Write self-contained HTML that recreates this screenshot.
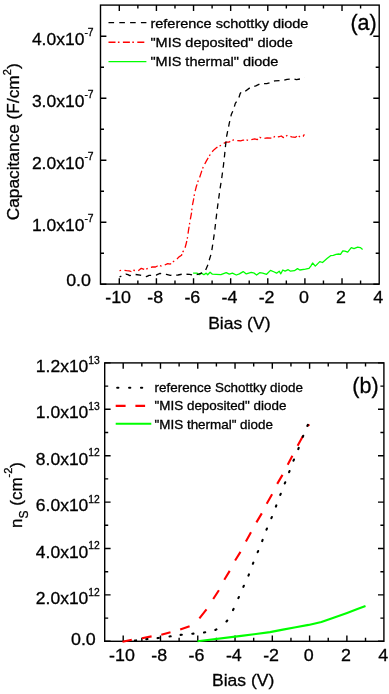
<!DOCTYPE html>
<html><head><meta charset="utf-8"><style>
html,body{margin:0;padding:0;background:#fff;}
svg{display:block;will-change:transform;}
</style></head><body>
<svg width="389" height="694" viewBox="0 0 389 694" font-family="'Liberation Sans', sans-serif" fill="#000" stroke-width="0.3">
<rect x="100.50" y="5.10" width="278.70" height="279.00" fill="none" stroke="#000" stroke-width="1.4"/>
<path d="M119.30 284.10V278.20M119.30 5.10V11.00M137.86 284.10V280.60M137.86 5.10V8.60M156.42 284.10V278.20M156.42 5.10V11.00M174.98 284.10V280.60M174.98 5.10V8.60M193.54 284.10V278.20M193.54 5.10V11.00M212.10 284.10V280.60M212.10 5.10V8.60M230.66 284.10V278.20M230.66 5.10V11.00M249.22 284.10V280.60M249.22 5.10V8.60M267.78 284.10V278.20M267.78 5.10V11.00M286.34 284.10V280.60M286.34 5.10V8.60M304.90 284.10V278.20M304.90 5.10V11.00M323.46 284.10V280.60M323.46 5.10V8.60M342.02 284.10V278.20M342.02 5.10V11.00M360.58 284.10V280.60M360.58 5.10V8.60M100.50 284.30H106.40M379.20 284.30H373.30M100.50 222.30H106.40M379.20 222.30H373.30M100.50 160.30H106.40M379.20 160.30H373.30M100.50 98.30H106.40M379.20 98.30H373.30M100.50 36.30H106.40M379.20 36.30H373.30M100.50 253.30H104.00M379.20 253.30H375.70M100.50 191.30H104.00M379.20 191.30H375.70M100.50 129.30H104.00M379.20 129.30H375.70M100.50 67.30H104.00M379.20 67.30H375.70" stroke="#000" stroke-width="1.4" fill="none"/>
<text transform="translate(118.10 303.00) scale(1.050 1)" font-size="17" text-anchor="middle" stroke="#000" stroke-width="0.3">-10</text>
<text transform="translate(155.22 303.00) scale(1.050 1)" font-size="17" text-anchor="middle" stroke="#000" stroke-width="0.3">-8</text>
<text transform="translate(192.34 303.00) scale(1.050 1)" font-size="17" text-anchor="middle" stroke="#000" stroke-width="0.3">-6</text>
<text transform="translate(229.46 303.00) scale(1.050 1)" font-size="17" text-anchor="middle" stroke="#000" stroke-width="0.3">-4</text>
<text transform="translate(266.58 303.00) scale(1.050 1)" font-size="17" text-anchor="middle" stroke="#000" stroke-width="0.3">-2</text>
<text transform="translate(303.90 303.00) scale(1.050 1)" font-size="17" text-anchor="middle" stroke="#000" stroke-width="0.3">0</text>
<text transform="translate(341.02 303.00) scale(1.050 1)" font-size="17" text-anchor="middle" stroke="#000" stroke-width="0.3">2</text>
<text transform="translate(378.14 303.00) scale(1.050 1)" font-size="17" text-anchor="middle" stroke="#000" stroke-width="0.3">4</text>
<text transform="translate(93.60 45.30) scale(1.030 1)" font-size="17" text-anchor="end" stroke="#000" stroke-width="0.3">4.0x10<tspan font-size="10.0" dy="-9.0">-7</tspan></text>
<text transform="translate(93.60 107.30) scale(1.030 1)" font-size="17" text-anchor="end" stroke="#000" stroke-width="0.3">3.0x10<tspan font-size="10.0" dy="-9.0">-7</tspan></text>
<text transform="translate(93.60 169.30) scale(1.030 1)" font-size="17" text-anchor="end" stroke="#000" stroke-width="0.3">2.0x10<tspan font-size="10.0" dy="-9.0">-7</tspan></text>
<text transform="translate(93.60 231.30) scale(1.030 1)" font-size="17" text-anchor="end" stroke="#000" stroke-width="0.3">1.0x10<tspan font-size="10.0" dy="-9.0">-7</tspan></text>
<text transform="translate(91.00 286.10) scale(1.050 1)" font-size="17" text-anchor="end" stroke="#000" stroke-width="0.3">0.0</text>
<text transform="translate(239.30 329.00) scale(1.020 1)" font-size="17.2" text-anchor="middle" stroke="#000" stroke-width="0.3">Bias (V)</text>
<text transform="translate(19.30 141.80) rotate(-90)" font-size="17.3" text-anchor="middle" stroke="#000" stroke-width="0.3" transform-origin="0 0">Capacitance (F/cm<tspan font-size="11" dy="-8.5">2</tspan><tspan dy="8.5">)</tspan></text>
<text transform="translate(363.60 30.00)" font-size="21.5" text-anchor="middle" stroke="#000" stroke-width="0.3">(a)</text>
<path d="M108.5 22.7H146.4" stroke="#000" stroke-width="1.3" stroke-dasharray="5.6 5.2"/>
<path d="M108.5 42.25H146.4" stroke="#f00" stroke-width="1.3" stroke-dasharray="7 2.4 1.6 3.4"/>
<path d="M108.5 61.7H146.4" stroke="#0f0" stroke-width="1.3"/>
<text transform="translate(150.40 27.60) scale(1.100 1)" font-size="13.2" text-anchor="start" stroke="#000" stroke-width="0.3">reference schottky diode</text>
<text transform="translate(150.40 46.90) scale(1.100 1)" font-size="13.2" text-anchor="start" stroke="#000" stroke-width="0.3">"MIS deposited" diode</text>
<text transform="translate(150.40 66.40) scale(1.100 1)" font-size="13.2" text-anchor="start" stroke="#000" stroke-width="0.3">"MIS thermal" diode</text>
<path d="M193.10 273.10 L196.90 273.10 L199.30 274.70 L201.60 273.10 L203.90 274.70 L206.20 273.10 L207.70 274.70 L210.10 272.30 L212.40 274.20 L216.20 274.30 L220.90 274.70 L226.20 272.60 L229.30 274.20 L232.40 273.10 L236.30 275.00 L239.40 273.90 L243.20 271.60 L246.30 273.90 L251.20 272.30 L254.30 273.20 L256.60 275.10 L259.70 272.70 L262.70 273.20 L266.60 274.30 L270.50 270.40 L274.30 272.00 L276.60 273.20 L279.20 271.20 L280.80 273.80 L282.80 270.00 L285.10 271.20 L288.20 269.70 L290.50 271.20 L294.40 270.70 L297.50 268.60 L299.80 270.00 L305.40 269.20 L309.00 268.40 L310.80 266.10 L312.60 263.00 L315.30 266.10 L319.80 261.60 L322.50 262.50 L327.00 258.50 L330.60 255.70 L333.30 255.30 L336.00 254.40 L338.70 254.00 L340.50 254.40 L342.80 250.80 L345.00 251.20 L347.70 252.10 L351.30 247.60 L354.00 248.60 L357.60 247.20 L360.30 247.60 L362.60 249.40" fill="none" stroke="#0f0" stroke-width="1.3" stroke-linecap="butt" stroke-linejoin="round"/>
<path d="M119.50 270.60 L124.00 270.20 L126.60 270.60 L129.10 270.90 L131.10 271.50 L133.00 270.20 L135.60 270.60 L138.10 270.90 L141.30 268.30 L145.20 269.80 L147.80 268.30 L149.70 267.60 L152.30 267.00 L155.50 267.00 L157.40 266.00 L159.30 265.50 L161.50 266.10 L164.60 265.10 L167.70 263.60 L170.30 264.10 L173.40 261.50 L176.50 259.40 L179.00 256.90 L181.60 255.30 L182.10 252.80 L184.70 249.20 L186.20 243.50 L187.20 239.40 L187.80 235.30 L188.60 229.70 L190.10 220.60 L191.60 212.50 L192.10 207.00 L193.60 199.40 L194.60 193.30 L196.10 187.30 L197.70 182.20 L199.70 177.20 L201.70 171.10 L203.20 167.00 L206.30 161.10 L209.50 155.70 L211.70 152.10 L214.40 149.40 L216.70 147.60 L218.90 146.30 L222.10 144.90 L224.30 143.10 L226.10 142.20 L228.80 142.20 L231.10 140.90 L233.80 139.90 L237.40 140.50 L240.60 140.90 L243.10 140.20 L245.70 139.80 L248.90 140.50 L251.50 139.60 L254.70 138.90 L257.30 139.60 L259.80 137.30 L262.40 138.30 L264.30 138.30 L267.10 137.80 L271.60 138.20 L274.20 136.90 L276.10 135.60 L278.70 136.90 L281.30 136.00 L283.20 137.60 L285.80 136.30 L287.70 135.00 L291.60 136.90 L295.40 137.30 L298.00 135.30 L300.60 137.60 L303.10 136.30 L304.40 134.40" fill="none" stroke="#f00" stroke-width="1.3" stroke-linecap="butt" stroke-linejoin="round" stroke-dasharray="7 2.4 1.6 3.4" stroke-dashoffset="9.4"/>
<path d="M119.50 277.00 L125.90 274.10 L127.90 274.70 L129.80 275.70 L135.60 274.50 L140.10 275.10 L146.50 276.60 L149.10 275.40 L156.10 275.10 L160.00 273.40 L166.40 274.40 L170.30 275.30 L178.00 275.00 L182.50 274.10 L189.60 274.40 L193.40 275.30 L198.60 274.10 L203.20 272.50 L205.50 270.40 L207.90 264.80 L209.50 259.30 L211.40 253.00 L213.00 242.70 L214.60 231.60 L215.80 221.30 L217.10 210.20 L218.70 198.30 L220.30 187.20 L221.90 176.90 L223.50 165.00 L224.60 155.00 L225.50 146.00 L226.60 136.50 L229.30 123.20 L231.40 114.20 L233.70 109.10 L235.30 103.30 L238.50 98.80 L240.20 93.50 L241.50 91.80 L243.00 92.30 L244.90 91.50 L250.10 87.60 L255.80 85.90 L261.00 83.40 L266.80 83.70 L271.90 82.10 L275.00 80.80 L283.60 80.40 L287.10 79.30 L292.90 78.80 L296.40 79.70 L301.00 78.80 L304.50 77.40" fill="none" stroke="#000" stroke-width="1.3" stroke-linecap="butt" stroke-linejoin="round" stroke-dasharray="5.6 4.8" stroke-dashoffset="3.6"/>
<rect x="104.70" y="362.90" width="279.20" height="278.40" fill="none" stroke="#000" stroke-width="1.4"/>
<path d="M123.20 641.30V635.40M123.20 362.90V368.80M141.84 641.30V637.80M141.84 362.90V366.40M160.48 641.30V635.40M160.48 362.90V368.80M179.12 641.30V637.80M179.12 362.90V366.40M197.76 641.30V635.40M197.76 362.90V368.80M216.40 641.30V637.80M216.40 362.90V366.40M235.04 641.30V635.40M235.04 362.90V368.80M253.68 641.30V637.80M253.68 362.90V366.40M272.32 641.30V635.40M272.32 362.90V368.80M290.96 641.30V637.80M290.96 362.90V366.40M309.60 641.30V635.40M309.60 362.90V368.80M328.24 641.30V637.80M328.24 362.90V366.40M346.88 641.30V635.40M346.88 362.90V368.80M365.52 641.30V637.80M365.52 362.90V366.40M104.70 641.30H110.60M383.90 641.30H378.00M104.70 594.90H110.60M383.90 594.90H378.00M104.70 548.50H110.60M383.90 548.50H378.00M104.70 502.10H110.60M383.90 502.10H378.00M104.70 455.70H110.60M383.90 455.70H378.00M104.70 409.30H110.60M383.90 409.30H378.00M104.70 362.90H110.60M383.90 362.90H378.00M104.70 618.10H108.20M383.90 618.10H380.40M104.70 571.70H108.20M383.90 571.70H380.40M104.70 525.30H108.20M383.90 525.30H380.40M104.70 478.90H108.20M383.90 478.90H380.40M104.70 432.50H108.20M383.90 432.50H380.40M104.70 386.10H108.20M383.90 386.10H380.40" stroke="#000" stroke-width="1.4" fill="none"/>
<text transform="translate(122.00 661.00) scale(1.050 1)" font-size="17" text-anchor="middle" stroke="#000" stroke-width="0.3">-10</text>
<text transform="translate(159.28 661.00) scale(1.050 1)" font-size="17" text-anchor="middle" stroke="#000" stroke-width="0.3">-8</text>
<text transform="translate(196.56 661.00) scale(1.050 1)" font-size="17" text-anchor="middle" stroke="#000" stroke-width="0.3">-6</text>
<text transform="translate(233.84 661.00) scale(1.050 1)" font-size="17" text-anchor="middle" stroke="#000" stroke-width="0.3">-4</text>
<text transform="translate(271.12 661.00) scale(1.050 1)" font-size="17" text-anchor="middle" stroke="#000" stroke-width="0.3">-2</text>
<text transform="translate(308.60 661.00) scale(1.050 1)" font-size="17" text-anchor="middle" stroke="#000" stroke-width="0.3">0</text>
<text transform="translate(345.88 661.00) scale(1.050 1)" font-size="17" text-anchor="middle" stroke="#000" stroke-width="0.3">2</text>
<text transform="translate(383.16 661.00) scale(1.050 1)" font-size="17" text-anchor="middle" stroke="#000" stroke-width="0.3">4</text>
<text transform="translate(99.80 371.90) scale(1.030 1)" font-size="17" text-anchor="end" stroke="#000" stroke-width="0.3">1.2x10<tspan font-size="10.0" dy="-8.3">13</tspan></text>
<text transform="translate(99.80 418.30) scale(1.030 1)" font-size="17" text-anchor="end" stroke="#000" stroke-width="0.3">1.0x10<tspan font-size="10.0" dy="-8.3">13</tspan></text>
<text transform="translate(99.80 464.70) scale(1.030 1)" font-size="17" text-anchor="end" stroke="#000" stroke-width="0.3">8.0x10<tspan font-size="10.0" dy="-8.3">12</tspan></text>
<text transform="translate(99.80 511.10) scale(1.030 1)" font-size="17" text-anchor="end" stroke="#000" stroke-width="0.3">6.0x10<tspan font-size="10.0" dy="-8.3">12</tspan></text>
<text transform="translate(99.80 557.50) scale(1.030 1)" font-size="17" text-anchor="end" stroke="#000" stroke-width="0.3">4.0x10<tspan font-size="10.0" dy="-8.3">12</tspan></text>
<text transform="translate(99.80 603.90) scale(1.030 1)" font-size="17" text-anchor="end" stroke="#000" stroke-width="0.3">2.0x10<tspan font-size="10.0" dy="-8.3">12</tspan></text>
<text transform="translate(95.80 644.50) scale(1.050 1)" font-size="17" text-anchor="end" stroke="#000" stroke-width="0.3">0.0</text>
<text transform="translate(243.20 686.00) scale(1.020 1)" font-size="17.2" text-anchor="middle" stroke="#000" stroke-width="0.3">Bias (V)</text>
<text transform="translate(21.50 495.00) rotate(-90)" font-size="17" text-anchor="middle" stroke="#000" stroke-width="0.3">n<tspan font-size="12" dy="6">S</tspan><tspan dy="-6">&#160;(cm</tspan><tspan font-size="11" dy="-10">-2</tspan><tspan dy="10">)</tspan></text>
<text transform="translate(365.40 393.30)" font-size="21.5" text-anchor="middle" stroke="#000" stroke-width="0.3">(b)</text>
<path d="M117.2 387.8H118.4M129.1 387.8H130.3M141.0 387.8H142.2" stroke="#000" stroke-width="2.1" stroke-linecap="round"/>
<path d="M115.7 405.9H125.6M135.4 405.9H145.1" stroke="#f00" stroke-width="2.1"/>
<path d="M115.7 423.7H151.3" stroke="#0f0" stroke-width="2.1"/>
<text transform="translate(154.60 392.30) scale(1.100 1)" font-size="12.2" text-anchor="start" stroke="#000" stroke-width="0.3">reference Schottky diode</text>
<text transform="translate(154.60 410.30) scale(1.100 1)" font-size="12.2" text-anchor="start" stroke="#000" stroke-width="0.3">"MIS deposited" diode</text>
<text transform="translate(154.60 428.60) scale(1.100 1)" font-size="12.2" text-anchor="start" stroke="#000" stroke-width="0.3">"MIS thermal" diode</text>
<path d="M197.50 641.30 L241.30 635.90 L270.00 632.10 L282.90 629.60 L295.70 627.20 L308.60 624.90 L321.40 621.90 L334.30 617.50 L347.10 612.90 L357.40 609.00 L365.50 605.90" fill="none" stroke="#0f0" stroke-width="2.1" stroke-linecap="butt" stroke-linejoin="round"/>
<path d="M122.50 641.80L131.80 639.80M141.90 638.20L151.60 636.40M161.30 634.80L170.50 632.30M180.20 629.60L189.60 626.20M199.40 618.40L206.50 609.40M213.20 599.00L218.90 590.20M224.30 579.70L229.70 570.90M235.10 560.50L240.50 551.90M245.90 541.60L251.00 532.30M256.40 522.40L261.80 513.40M266.70 503.70L272.10 494.20M277.20 483.90L282.50 474.90M287.70 464.70L292.40 455.70M297.60 445.70L303.10 435.80M307.40 426.00L309.50 424.50" fill="none" stroke="#f00" stroke-width="2.1" stroke-linecap="butt"/>
<path d="M134.90 640.57L136.10 640.43M146.30 639.17L147.50 639.03M157.60 638.07L158.80 637.93M169.51 636.48L170.69 636.32M180.60 634.87L181.80 634.73M192.30 633.76L193.50 633.64M204.01 632.50L205.19 632.30M215.37 629.97L216.43 629.43M226.51 621.45L227.29 620.55M233.03 610.04L233.57 608.96M238.36 598.15L238.84 597.05M243.36 586.85L243.84 585.75M248.47 575.55L248.93 574.45M252.88 563.76L253.32 562.64M257.67 552.16L258.13 551.04M262.18 541.06L262.62 539.94M266.48 529.66L266.92 528.54M271.37 518.16L271.83 517.04M275.89 506.56L276.31 505.44M280.28 494.96L280.72 493.84M284.78 483.46L285.22 482.34M289.09 472.16L289.51 471.04M293.48 460.66L293.92 459.54M298.28 449.06L298.72 447.94M302.78 436.96L303.22 435.84M307.37 425.95L307.83 424.85" fill="none" stroke="#000" stroke-width="2.1" stroke-linecap="round"/>
</svg>
</body></html>
